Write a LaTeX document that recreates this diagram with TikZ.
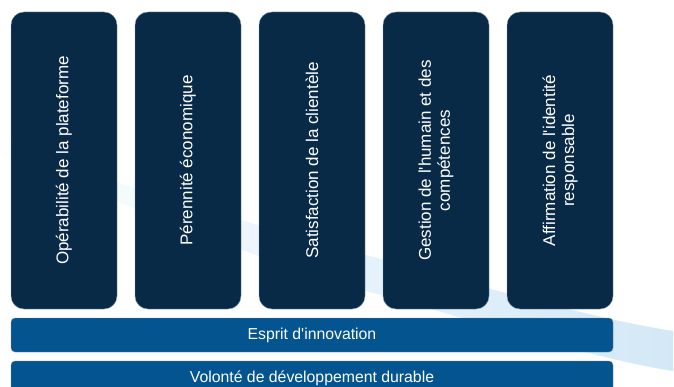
\documentclass[tikz,border=0pt]{standalone}
\usepackage{fontspec}
\setmainfont{Liberation Sans}[Ligatures=TeXOff]
\usetikzlibrary{fadings}
\definecolor{pillarnavy}{HTML}{082A47}
\definecolor{barblue}{HTML}{03548F}
\definecolor{swooshblue}{HTML}{D3E8F7}
\definecolor{edgegrey}{HTML}{7E93A8}
\tikzfading[name=swooshfade, left color=transparent!95, right color=transparent!0]
\tikzset{
  pillar/.style={fill=pillarnavy, draw=edgegrey, line width=0.4pt,
    rounded corners=13pt, minimum width=106pt, minimum height=297pt,
    inner sep=0pt},
  pillartext/.style={text=white, rotate=90, align=center,
    font=\fontsize{17}{19}\selectfont},
  basebar/.style={fill=barblue, draw=edgegrey, line width=0.4pt,
    rounded corners=4pt, minimum width=602pt, minimum height=34pt,
    inner sep=0pt, text=white, font=\fontsize{15.8}{18}\selectfont},
}
\begin{document}
\begin{tikzpicture}[x=1pt,y=-1pt]
  \useasboundingbox (0,0) rectangle (674,387);
  \clip (0,0) rectangle (674,387);
  % light swoosh running behind the pillars, fading out to the left
  \fill[swooshblue, path fading=swooshfade]
    (0,140) .. controls (130,192) and (250,222) .. (370,256)
    .. controls (480,286) and (600,320) .. (674,331)
    -- (674,371)
    .. controls (600,360) and (480,322) .. (370,292)
    .. controls (250,258) and (130,205) .. (0,156) -- cycle;
  % five pillars
  \node[pillar] (p1) at (64,160.5) {};
  \node[pillar] (p2) at (188,160.5) {};
  \node[pillar] (p3) at (312,160.5) {};
  \node[pillar] (p4) at (436,160.5) {};
  \node[pillar] (p5) at (560,160.5) {};
  \node[pillartext] (t1) at (p1) {Opérabilité de la plateforme};
  \node[pillartext] (t2) at (p2) {Pérennité économique};
  \node[pillartext] (t3) at (p3) {Satisfaction de la clientèle};
  \node[pillartext] (t4) at (p4) {Gestion de l'humain et des\\compétences};
  \node[pillartext] (t5) at (p5) {Affirmation de l'identité\\responsable};
  % foundation bars
  \node[basebar] (b1) at (312,335) {Esprit d'innovation};
  \node[basebar] (b2) at (312,378) {Volonté de développement durable};
\end{tikzpicture}
\end{document}
